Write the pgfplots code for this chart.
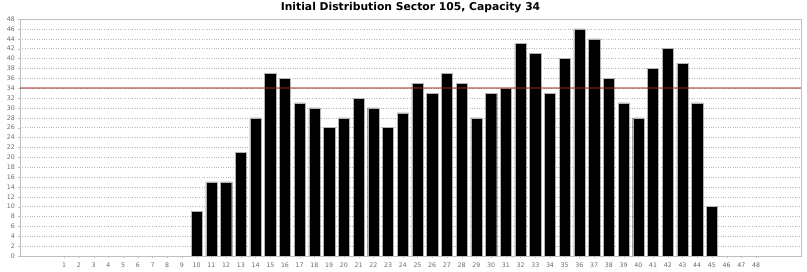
\documentclass[border=0pt]{standalone}
\usepackage{pgfplots}
\pgfplotsset{compat=1.18}
\usepackage{fontspec}
\setmainfont{DejaVu Sans}
\definecolor{tickgray}{rgb}{0.42,0.42,0.42}
\definecolor{framegray}{rgb}{0.75,0.75,0.75}
\definecolor{capred}{rgb}{0.63,0.16,0.16}
\begin{document}
\begin{tikzpicture}
\useasboundingbox (0,0) rectangle (807bp,272bp);
\begin{axis}[
  at={(20bp,16bp)}, anchor=south west,
  scale only axis, width=781bp, height=237bp,
  xmin=-2, xmax=51.05, ymin=0, ymax=48,
  xtick={1,...,48},
  ytick={0,2,...,48},
  tick label style={font=\fontsize{6.3}{7}\selectfont, text=tickgray},
  /pgf/number format/assume math mode=true,
  ymajorgrids, major grid style={dotted, gray!55},
  axis line style={framegray, line width=0.8pt},
  major tick length=2bp,
  tick style={framegray},
  xtick pos=bottom, ytick pos=left,
  tick align=outside,
  xticklabel style={yshift=-1bp},
  yticklabel style={xshift=0.5bp},
  title={\fontsize{10.8}{12}\selectfont\bfseries Initial Distribution Sector 105, Capacity 34},
  title style={at={(0.5,1)}, yshift=-3bp},
]
\addplot[ybar, bar width=0.76, fill=black, draw=gray!60, line width=0.4pt] coordinates {
(10,9) (11,15) (12,15) (13,21) (14,28) (15,37) (16,36) (17,31) (18,30) (19,26)
(20,28) (21,32) (22,30) (23,26) (24,29) (25,35) (26,33) (27,37) (28,35) (29,28)
(30,33) (31,34) (32,43) (33,41) (34,33) (35,40) (36,46) (37,44) (38,36) (39,31)
(40,28) (41,38) (42,42) (43,39) (44,31) (45,10)
};
\addplot[capred, opacity=0.5, line width=1.5bp, forget plot] coordinates {(-2,34) (51.05,34)};
\end{axis}
\end{tikzpicture}
\end{document}
